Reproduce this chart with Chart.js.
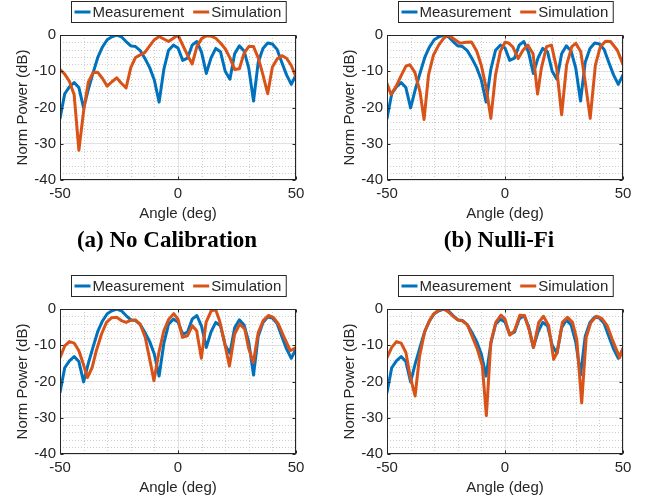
<!DOCTYPE html>
<html><head><meta charset="utf-8">
<script src="https://cdn.jsdelivr.net/npm/chart.js@4.4.1/dist/chart.umd.min.js"></script>
<style>
html,body{margin:0;padding:0;background:#fff}
body{width:652px;height:502px;overflow:hidden;position:relative}
.pan{position:absolute;width:326px;height:230px}
.cap{position:absolute;font-family:"Liberation Serif","Times New Roman",serif;font-weight:bold;font-size:23px;line-height:23px;color:#000;white-space:nowrap;transform:translateX(-50%)}
</style></head><body>
<div class="pan" style="left:0;top:0"><canvas id="ca" width="326" height="230"></canvas></div>
<div class="pan" style="left:327px;top:0"><canvas id="cb" width="326" height="230"></canvas></div>
<div class="pan" style="left:0;top:274px"><canvas id="cc" width="326" height="230"></canvas></div>
<div class="pan" style="left:327px;top:274px"><canvas id="cd" width="326" height="230"></canvas></div>
<div class="cap" style="left:167px;top:228px">(a) No Calibration</div>
<div class="cap" style="left:499px;top:228px">(b) Nulli-Fi</div>
<script>
// ---- data (angle in deg, power in dB) ----
const xTicks = [-50, 0, 50];
const yTicks = [-40, -30, -20, -10, 0];
const seriesNames = ['Measurement', 'Simulation'];

const measAngle = [-50,-48,-46,-44,-42,-40,-38,-36,-34,-32,-30,-28,-26,-24,-22,-20,-18,-16,-14,-12,-10,-8,-6,-4,-2,0,2,4,6,8,10,12,14,16,18,20,22,24,26,28,30,32,34,36,38,40,42,44,46,48,50];
const measDb = [-23,-16.2,-14.3,-13.1,-14.5,-20.1,-15,-10.5,-6.2,-3.3,-1.3,-0.5,0,-0.5,-1.8,-3,-3.2,-4.3,-6.5,-9,-12.5,-18.5,-9.5,-4.2,-2.8,-3.6,-7,-6.4,-2.8,-1.8,-4.8,-10.6,-6.3,-3.7,-4.6,-10,-12.2,-5.2,-3,-4.4,-9.2,-18.2,-7.5,-3.7,-2.2,-2.5,-4,-7.6,-11,-13.6,-11];

const simAAngle = [-50,-48,-46,-44,-42,-40,-38,-36,-34,-32,-30,-28,-26,-24,-22,-20,-18,-16,-14,-12,-10,-8,-6,-4,-2,0,2,4,6,8,10,12,14,16,18,20,22,24,26,28,30,32,34,36,38,40,42,44,46,48,50];
const simADb = [-9.5,-10.8,-12.8,-16.5,-31.8,-21,-13,-10.4,-10.3,-12,-14.1,-12.9,-11.8,-13.3,-14.6,-9,-6.2,-5.5,-4.8,-3,-1.3,-0.4,-1.1,-1.8,-0.9,0,-2.8,-5.5,-8,-3.2,-1,-0.2,-0.3,-0.9,-2.2,-3.8,-6.3,-9.5,-9.3,-5,-3.2,-3.2,-6.3,-11,-16.2,-8.8,-6.6,-5.7,-6.4,-8.4,-11.6];

const simBAngle = [-50,-48.3,-46,-44,-42,-40.3,-38.2,-36,-34.3,-32.4,-30.3,-28.1,-26,-24.2,-21.8,-19,-16.5,-14.2,-12,-10,-8,-6,-4,-2,0,1.5,3.3,5.6,7.6,9.7,11.9,13.8,15.4,17.6,19.7,21.9,24,26.1,28.3,30,32.1,34,36.1,38.3,40.4,42.6,44.7,47.6,50];
const simBDb = [-13.4,-16.4,-14,-11.2,-8.6,-8.2,-10.3,-15.7,-23.3,-11,-5.5,-2.8,-0.9,0,-1,-2.3,-2,-1.9,-4.4,-8.5,-14.5,-23,-11,-4.6,-2,-2.2,-3.3,-6.5,-4.2,-2.8,-5.2,-16.3,-9.2,-3.2,-2.8,-9.2,-22,-8.3,-3.2,-2.3,-4.6,-13,-23,-8.3,-3.2,-1.7,-1.8,-4.2,-8.1];

const simCAngle = [-50,-48,-46,-44,-42,-40.3,-38.4,-36.4,-34.6,-32.4,-30.3,-28.1,-26,-24,-22,-20.3,-18.1,-16,-13.9,-11.7,-10.2,-8.1,-6,-3.9,-1.8,0,1.9,4,6.1,7.9,9.9,11.9,14,15.9,17.6,19.7,21.8,24,26.1,28.3,29.9,31.9,34,36.1,38.3,40.4,42.6,44.7,47.6,50];
const simCDb = [-13.4,-10.2,-9,-9.4,-11.5,-14.8,-18.9,-16.2,-11.5,-6.9,-3.7,-2.4,-2.3,-3.2,-3.7,-3.2,-3,-4.2,-7.8,-14.8,-19.8,-12,-6,-2.8,-1.3,-2.8,-7.8,-7.4,-4.6,-6,-13.6,-3.7,-0.6,-0.1,-3.2,-9.2,-15.7,-6.9,-4.2,-5.5,-10.8,-14.8,-6.5,-3.2,-1.8,-2.3,-4.2,-7.4,-11.5,-10.6];

const simDAngle = [-50,-48,-46,-44,-42,-40.2,-38.1,-36.2,-34,-32,-30.3,-28,-26,-24,-22,-20,-18,-16,-14,-11.7,-9.6,-7.9,-6,-3.9,-1.7,0,2,4,6.3,8.3,10.1,12.1,14.3,16.3,18.5,20.6,22.1,24.3,26.5,28.6,30.4,32.5,34.4,36.4,38.7,41,43.3,45.4,48.6,50];
const simDDb = [-13.4,-10.6,-9,-9.4,-12,-18.5,-24,-13,-6.2,-3.2,-1.4,-0.2,0,-0.8,-2,-3,-3.3,-4.3,-7.4,-11.1,-15.7,-29.4,-9.2,-3.7,-1.7,-2.8,-7.2,-6,-1.7,-1.8,-5.5,-10.6,-3.7,-2,-4.6,-13.9,-12,-3.7,-2.3,-3.7,-8.3,-25.9,-7.8,-3.7,-2,-2.6,-4.6,-8.3,-13.4,-10.8];

// ---- styling ----
const TXT = '#262626';
const FONT = '"Liberation Sans", Arial, Helvetica, sans-serif';
const BLUE = '#0072BD', ORANGE = '#D95319';

function toXY(xs, ys){ return xs.map((x,i)=>({x:x, y:ys[i]})); }

const minorGrid = {
  id:'minorGrid',
  beforeDatasetsDraw(chart){
    const {ctx, chartArea:a, scales:{x, y}} = chart;
    ctx.save();
    ctx.strokeStyle = '#cdcdcd'; ctx.lineWidth = 1; ctx.setLineDash([1,2]);
    for(let v=-40; v<=40; v+=10){
      if(xTicks.includes(v)) continue;
      const px = Math.round(x.getPixelForValue(v))+0.5;
      ctx.beginPath(); ctx.moveTo(px,a.top); ctx.lineTo(px,a.bottom); ctx.stroke();
    }
    for(let v=-38; v<=-2; v+=2){
      if(v%10===0) continue;
      const py = Math.round(y.getPixelForValue(v))+0.5;
      ctx.beginPath(); ctx.moveTo(a.left,py); ctx.lineTo(a.right,py); ctx.stroke();
    }
    ctx.restore();
  }
};

const frameAndLegend = {
  id:'frameAndLegend',
  afterDraw(chart){
    const {ctx, chartArea:a, scales:{x, y}} = chart;
    ctx.save();
    // axes box
    ctx.strokeStyle = TXT; ctx.lineWidth = 1; ctx.setLineDash([]);
    const L = Math.round(a.left)+0.5, R = Math.round(a.right)-0.5, T = Math.round(a.top)+0.5, B = Math.round(a.bottom)-0.5;
    ctx.strokeRect(L, T, R-L, B-T);
    // inward ticks
    ctx.beginPath();
    xTicks.forEach(v=>{ const px = Math.round(x.getPixelForValue(v))+0.5; ctx.moveTo(px,B); ctx.lineTo(px,B-3); ctx.moveTo(px,T); ctx.lineTo(px,T+3); });
    yTicks.forEach(v=>{ const py = Math.round(y.getPixelForValue(v))+0.5; ctx.moveTo(L,py); ctx.lineTo(L+3,py); ctx.moveTo(R,py); ctx.lineTo(R-3,py); });
    ctx.stroke();
    // legend box
    ctx.font = '15px ' + FONT;
    const items = chart.data.datasets.map(d=>({label:d.label, color:d.borderColor, w:ctx.measureText(d.label).width}));
    const lineW = 16, gapLT = 2, gapItem = 9, padL = 3, padR = 5, H = 21;
    let W = padL + padR + gapItem*(items.length-1);
    items.forEach(it=>{ W += lineW + gapLT + it.w; });
    const cx = (a.left + a.right)/2;
    const x0 = Math.round(cx - W/2) + 0.5, y0 = 1.5;
    ctx.fillStyle = '#fff'; ctx.fillRect(x0, y0, W, H);
    ctx.strokeStyle = TXT; ctx.strokeRect(x0, y0, W, H);
    let xx = x0 + padL; const ym = y0 + H/2;
    items.forEach(it=>{
      ctx.strokeStyle = it.color; ctx.lineWidth = 3;
      ctx.beginPath(); ctx.moveTo(xx, ym); ctx.lineTo(xx+lineW, ym); ctx.stroke();
      xx += lineW + gapLT;
      ctx.fillStyle = TXT; ctx.textBaseline = 'middle'; ctx.textAlign = 'left';
      ctx.fillText(it.label, xx, ym+0.5);
      xx += it.w + gapItem;
    });
    ctx.restore();
  }
};

function makeChart(id, simX, simY){
  return new Chart(document.getElementById(id), {
    type:'line',
    data:{datasets:[
      {label:seriesNames[0], data:toXY(measAngle, measDb), borderColor:BLUE, borderWidth:3, pointRadius:0, tension:0, fill:false, order:2, borderJoinStyle:'round', borderCapStyle:'round'},
      {label:seriesNames[1], data:toXY(simX, simY), borderColor:ORANGE, borderWidth:3, pointRadius:0, tension:0, fill:false, order:1, borderJoinStyle:'round', borderCapStyle:'round'}
    ]},
    options:{
      responsive:false, animation:false, devicePixelRatio:1,
      layout:{padding:{left:0, right:30, top:35, bottom:0}},
      plugins:{legend:{display:false}, tooltip:{enabled:false}},
      scales:{
        x:{type:'linear', min:-50, max:50,
           afterBuildTicks(s){ s.ticks = xTicks.map(v=>({value:v})); },
           ticks:{font:{family:FONT, size:15}, color:TXT, padding:5, maxRotation:0},
           grid:{color:'#e2e2e2', drawTicks:false, lineWidth:1},
           border:{display:false},
           title:{display:true, text:'Angle (deg)', font:{family:FONT, size:15}, color:TXT, padding:{top:0, bottom:7}},
           afterFit(s){ s.height = 50; }},
        y:{type:'linear', min:-40, max:0,
           afterBuildTicks(s){ s.ticks = yTicks.map(v=>({value:v})); },
           ticks:{font:{family:FONT, size:15}, color:TXT, padding:4},
           grid:{color:'#e2e2e2', drawTicks:false, lineWidth:1},
           border:{display:false},
           title:{display:true, text:'Norm Power (dB)', font:{family:FONT, size:15}, color:TXT, padding:{top:14, bottom:0}},
           afterFit(s){ s.width = 60; }}
      }
    },
    plugins:[minorGrid, frameAndLegend]
  });
}

makeChart('ca', simAAngle, simADb);
makeChart('cb', simBAngle, simBDb);
makeChart('cc', simCAngle, simCDb);
makeChart('cd', simDAngle, simDDb);
</script>
</body></html>
